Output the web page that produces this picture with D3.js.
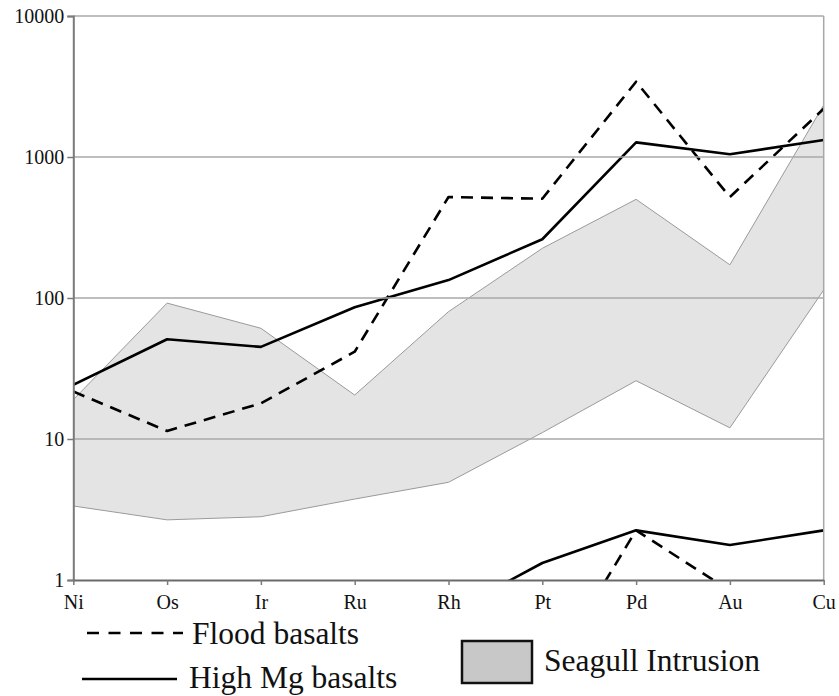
<!DOCTYPE html>
<html>
<head>
<meta charset="utf-8">
<script src="https://cdn.jsdelivr.net/npm/d3@7/dist/d3.min.js"></script>
<style>
  html, body { margin: 0; padding: 0; background: #fff; }
  svg { display: block; }
  text { font-family: "Liberation Serif", "Times New Roman", serif; fill: #111; }
</style>
</head>
<body>
<svg id="chart" width="839" height="696"></svg>
<script>
// ---- data ----
const elements = ["Ni", "Os", "Ir", "Ru", "Rh", "Pt", "Pd", "Au", "Cu"];
const floodUpper = [21.7, 11.4, 17.9, 41.6, 520, 506, 3420, 520, 2200];
const highMgUpper = [24.2, 51, 45, 86, 134, 261, 1270, 1045, 1320];
const floodLower = [null, null, null, null, null, 0.18, 2.25, 0.84, null];
const highMgLower = [null, null, null, null, 0.58, 1.32, 2.25, 1.77, 2.25];
const seagullMax = [19, 92, 61, 20.5, 80, 225, 501, 172, 2340];
const seagullMin = [3.35, 2.67, 2.81, 3.75, 4.93, 11.1, 25.9, 12, 114];
const yTicks = [1, 10, 100, 1000, 10000];
const legendLines = ["Flood basalts", "High Mg basalts"];
const legendArea = "Seagull Intrusion";

(function () {
// ---- layout ----
const svg = d3.select("#chart");
const pL = 73.3, pR = 823.7, pT = 16, pB = 580;

const x = d3.scalePoint().domain(elements).range([pL, pR]).padding(0);
const y = d3.scaleLog().domain([1, 10000]).range([pB, pT]);

svg.append("defs").append("clipPath").attr("id", "plotClip")
  .append("rect").attr("x", pL).attr("y", pT)
  .attr("width", pR - pL).attr("height", pB - pT);

const plot = svg.append("g").attr("clip-path", "url(#plotClip)");

// Seagull area
const areaData = elements.map((e, i) => ({ e, lo: seagullMin[i], hi: seagullMax[i] }));
plot.append("path")
  .datum(areaData)
  .attr("d", d3.area().x(d => x(d.e)).y0(d => y(d.lo)).y1(d => y(d.hi)))
  .attr("fill", "#e4e4e4")
  .attr("stroke", "#9a9a9a")
  .attr("stroke-width", 1);

// gridlines
svg.append("g").selectAll("line").data(yTicks.filter(t => t > 1)).join("line")
  .attr("x1", pL).attr("x2", pR)
  .attr("y1", d => y(d)).attr("y2", d => y(d))
  .attr("stroke", "#a8a8a8").attr("stroke-width", 1.5);

// right border
svg.append("line").attr("x1", pR).attr("x2", pR).attr("y1", pT).attr("y2", pB)
  .attr("stroke", "#a8a8a8").attr("stroke-width", 1.5);

// lines
function drawLine(values, dashed) {
  const data = elements.map((e, i) => ({ e, v: values[i] }));
  plot.append("path")
    .datum(data)
    .attr("d", d3.line().defined(d => d.v != null).x(d => x(d.e)).y(d => y(d.v)))
    .attr("fill", "none")
    .attr("stroke", "#000")
    .attr("stroke-width", 2.6)
    .attr("stroke-dasharray", dashed ? "12,8" : null)
    .attr("stroke-linejoin", "round");
}
drawLine(highMgUpper, false);
drawLine(floodUpper, true);
drawLine(highMgLower, false);
drawLine(floodLower, true);

// y axis
const yAxis = d3.axisLeft(y).tickValues(yTicks).tickFormat(d3.format("d")).tickSize(6).tickPadding(3);
const gy = svg.append("g").attr("transform", `translate(${pL},0)`).call(yAxis);
gy.select(".domain").attr("stroke", "#7a7a7a").attr("stroke-width", 2);
gy.selectAll(".tick line").attr("stroke", "#7a7a7a").attr("stroke-width", 1.5);
gy.selectAll("text").attr("font-size", 20).attr("fill", "#111");

// x axis
const xAxis = d3.axisBottom(x).tickSize(5).tickPadding(10).tickSizeOuter(0);
const gx = svg.append("g").attr("transform", `translate(0,${pB})`).call(xAxis);
gx.select(".domain").attr("stroke", "#6a6a6a").attr("stroke-width", 2);
gx.selectAll(".tick line").attr("stroke", "#7a7a7a").attr("stroke-width", 1.5);
gx.selectAll("text").attr("font-size", 20).attr("fill", "#111");

// legend
const lg = svg.append("g");
lg.append("line").attr("x1", 87).attr("x2", 183).attr("y1", 633).attr("y2", 633)
  .attr("stroke", "#000").attr("stroke-width", 2.6).attr("stroke-dasharray", "12,9.5");
lg.append("text").attr("x", 192).attr("y", 644).attr("font-size", 31.5).text(legendLines[0]);
lg.append("line").attr("x1", 82).attr("x2", 177).attr("y1", 679).attr("y2", 679)
  .attr("stroke", "#000").attr("stroke-width", 2.6);
lg.append("text").attr("x", 189).attr("y", 688).attr("font-size", 31.5).text(legendLines[1]);
lg.append("rect").attr("x", 462).attr("y", 641).attr("width", 70).attr("height", 42)
  .attr("fill", "#c8c8c8").attr("stroke", "#111").attr("stroke-width", 2.5);
lg.append("text").attr("x", 544).attr("y", 671).attr("font-size", 31.5).text(legendArea);
})();
</script>
</body>
</html>
